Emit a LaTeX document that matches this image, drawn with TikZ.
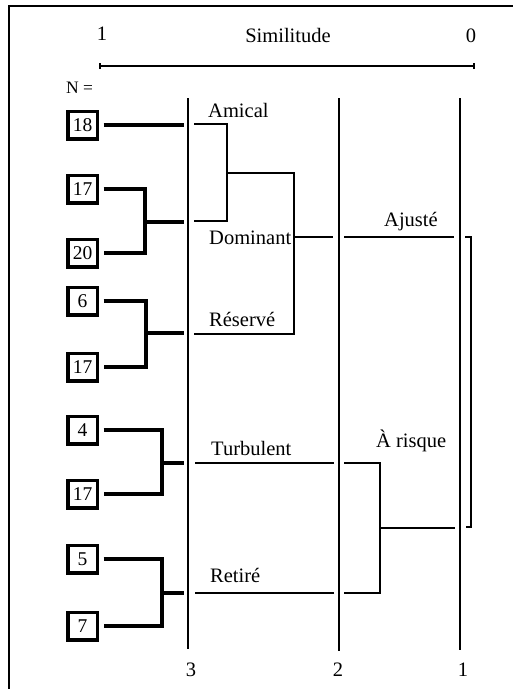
\documentclass[tikz,border=0pt]{standalone}
\usepackage{fontspec}
\setmainfont{Liberation Serif}
\begin{document}
\begin{tikzpicture}[x=1pt,y=-1pt,
  lbl/.style={inner sep=0pt,font=\fontsize{20.5}{22}\selectfont},
  nbox/.style={draw,line width=3.5pt,minimum width=29.5pt,minimum height=27.5pt,inner sep=0pt,font=\fontsize{19.5}{21}\selectfont},
  thickln/.style={line width=3.5pt},
  thinln/.style={line width=1.2pt},
  levelln/.style={line width=1.3pt},
  frameln/.style={line width=1.6pt}]
\useasboundingbox (0,0) rectangle (513,689);
% frame
\coordinate (fTR) at (513,6);
\coordinate (fTL) at (9,6);
\coordinate (fBL) at (9,689);
\draw[frameln] (fTR) -- (fTL) -- (fBL);
% similitude scale
\node[lbl,anchor=base] (one) at (102,40) {1};
\node[lbl,anchor=base] (zero) at (471,42) {0};
\node[lbl,anchor=base] (sim) at (288,42) {Similitude};
\coordinate (sL) at (100,66);
\coordinate (sR) at (474,66);
\draw[thinln] (sL) -- (sR);
\draw[thinln] ([yshift=-3pt]sL) -- ([yshift=3pt]sL);
\draw[thinln] ([yshift=-3pt]sR) -- ([yshift=3pt]sR);
\node[inner sep=0pt,font=\fontsize{17.5}{19}\selectfont,anchor=base west] (neq) at (66,93) {N =};
% level lines
\coordinate (l3t) at (188,98); \coordinate (l3b) at (188,649);
\coordinate (l2t) at (339,98); \coordinate (l2b) at (339,651);
\coordinate (l1t) at (460,98); \coordinate (l1b) at (460,650);
\draw[levelln] (l3t) -- (l3b);
\draw[levelln] (l2t) -- (l2b);
\draw[levelln] (l1t) -- (l1b);
\node[lbl,anchor=base] (n3) at (191,676) {3};
\node[lbl,anchor=base] (n2) at (338,676) {2};
\node[lbl,anchor=base] (n1) at (463,676) {1};
% boxes
\node[nbox] (b18) at (82.5,125) {18};
\node[nbox] (b17a) at (82.5,189) {17};
\node[nbox] (b20) at (82.5,253) {20};
\node[nbox] (b6) at (82.5,301) {6};
\node[nbox] (b17b) at (82.5,367) {17};
\node[nbox] (b4) at (82.5,430) {4};
\node[nbox] (b17c) at (82.5,494) {17};
\node[nbox] (b5) at (82.5,559) {5};
\node[nbox] (b7) at (82.5,626) {7};
% thick connectors
\coordinate (e18) at (184,125);
\draw[thickln] ([xshift=4.5pt]b18.east) -- (e18);
\coordinate (m1) at (145,222); \coordinate (e1) at (184,222);
\draw[thickln] ([xshift=4.5pt]b17a.east) -| (m1) |- ([xshift=4.5pt]b20.east);
\draw[thickln] (m1) -- (e1);
\coordinate (m2) at (146,333); \coordinate (e2) at (184,333);
\draw[thickln] ([xshift=4.5pt]b6.east) -| (m2) |- ([xshift=4.5pt]b17b.east);
\draw[thickln] (m2) -- (e2);
\coordinate (m3) at (162,463); \coordinate (e3) at (184,463);
\draw[thickln] ([xshift=4.5pt]b4.east) -| (m3) |- ([xshift=4.5pt]b17c.east);
\draw[thickln] (m3) -- (e3);
\coordinate (m4) at (162,593); \coordinate (e4) at (184,593);
\draw[thickln] ([xshift=4.5pt]b5.east) -| (m4) |- ([xshift=4.5pt]b7.east);
\draw[thickln] (m4) -- (e4);
% labels
\node[lbl,anchor=base west] (amical) at (208,117) {Amical};
\node[lbl,anchor=base west] (dominant) at (209,244) {Dominant};
\node[lbl,anchor=base west] (reserve) at (209,326) {Réservé};
\node[lbl,anchor=base west] (ajuste) at (384,226) {Ajusté};
\node[lbl,anchor=base west] (turb) at (211,455) {Turbulent};
\node[lbl,anchor=base west] (risque) at (376,447) {À risque};
\node[lbl,anchor=base west] (retire) at (210,582) {Retiré};
% thin dendrogram
\draw[thinln] (194,124) -- (227,124) -- (227,221) -- (194,221);
\draw[thinln] (227,173) -- (294,173) -- (294,334) -- (194,334);
\draw[thinln] (294,237) -- (333,237);
\draw[thinln] (344,237) -- (454,237);
\draw[thinln] (465,237) -- (471,237) -- (471,527) -- (466,527);
\draw[thinln] (195,463) -- (334,463);
\draw[thinln] (344,463) -- (380,463) -- (380,593) -- (344,593);
\draw[thinln] (334,593) -- (195,593);
\draw[thinln] (380,528) -- (455,528);
\end{tikzpicture}
\end{document}
